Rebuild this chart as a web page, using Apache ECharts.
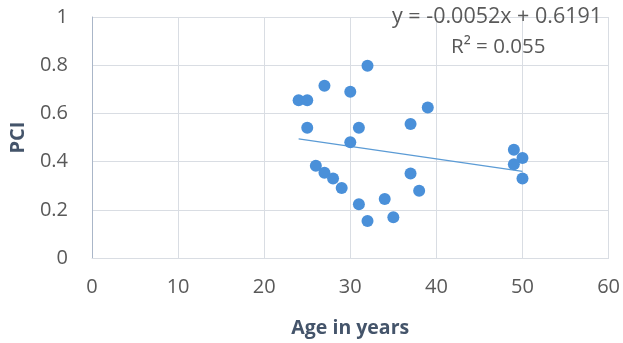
<!DOCTYPE html>
<html>
<head>
<meta charset="utf-8">
<script src="https://cdn.jsdelivr.net/npm/echarts@6/dist/echarts.min.js"></script>
<style>
  html, body { margin: 0; padding: 0; background: #ffffff; }
  #chart { width: 623px; height: 343px; }
</style>
</head>
<body>
<div id="chart"></div>
<script>
// Age (years) and PCI for each subject
const ages = [24, 25, 27, 30, 32, 39, 25, 31, 37, 30, 49, 50, 49, 26, 27, 28, 29, 31, 32, 34, 35, 37, 38, 50];
const pci  = [0.655, 0.655, 0.715, 0.69, 0.798, 0.624, 0.54, 0.54, 0.556, 0.48, 0.449, 0.415, 0.389, 0.383, 0.354, 0.33, 0.29, 0.223, 0.154, 0.245, 0.169, 0.351, 0.279, 0.33];

// Linear trend fitted to the points
const slope = -0.0052;
const intercept = 0.6191;
const rSquared = 0.055;

const xTicks = [0, 10, 20, 30, 40, 50, 60];
const yTicks = [0, 0.2, 0.4, 0.6, 0.8, 1];

const points = ages.map((a, i) => [a, pci[i]]);
const xMin = Math.min(...ages), xMax = Math.max(...ages);
const trend = [[xMin, slope * xMin + intercept], [xMax, slope * xMax + intercept]];

const fmt = (v, d) => (v < 0 ? '-' : '') + Math.abs(v).toFixed(d);
const eqText = 'y = ' + fmt(slope, 4) + 'x + ' + intercept.toFixed(4);
const r2Text = 'R\u00B2 = ' + rSquared.toFixed(3);

const font = '"Open Sans", "Liberation Sans", sans-serif';
const chart = echarts.init(document.getElementById('chart'), null, { renderer: 'canvas' });
chart.setOption({
  animation: false,
  backgroundColor: '#ffffff',
  grid: { left: 92, right: 14, top: 17, bottom: 85 },
  xAxis: {
    type: 'value',
    min: xTicks[0], max: xTicks[xTicks.length - 1], interval: 10,
    name: 'Age in years', nameLocation: 'middle', nameGap: 60,
    nameTextStyle: { fontFamily: font, fontSize: 19.5, fontWeight: 'bold', color: '#44546a' },
    axisLine: { show: true, lineStyle: { color: '#d9dde3', width: 1 } },
    axisTick: { show: false },
    axisLabel: { fontFamily: font, fontSize: 20, color: '#595959', margin: 19 },
    splitLine: { show: true, lineStyle: { color: '#d9dde3', width: 1 } }
  },
  yAxis: {
    type: 'value',
    min: yTicks[0], max: yTicks[yTicks.length - 1], interval: 0.2,
    name: 'PCI', nameLocation: 'middle', nameGap: 64, nameRotate: 90,
    nameTextStyle: { fontFamily: font, fontSize: 20, fontWeight: 'bold', color: '#44546a' },
    axisLine: { show: true, lineStyle: { color: '#aab6c8', width: 1 } },
    axisTick: { show: false },
    axisLabel: { fontFamily: font, fontSize: 20, color: '#595959', margin: 24,
      formatter: v => String(Math.round(v * 10) / 10) },
    splitLine: { show: true, lineStyle: { color: '#d9dde3', width: 1 } }
  },
  series: [
    {
      type: 'line',
      data: trend,
      symbol: 'none',
      lineStyle: { color: '#5b9bd5', width: 1.2 },
      z: 3
    },
    {
      type: 'scatter',
      data: points,
      symbol: 'circle',
      symbolSize: 12,
      itemStyle: { color: '#4a90d9', opacity: 1 },
      z: 4
    }
  ],
  graphic: [
    { type: 'text', x: 392, y: 17, z: 10,
      style: { text: eqText, font: '21.5px ' + font, fill: '#595959', verticalAlign: 'middle' } },
    { type: 'text', x: 451, y: 47, z: 10,
      style: { text: r2Text, font: '20.5px ' + font, fill: '#595959', verticalAlign: 'middle' } }
  ]
});
</script>
</body>
</html>
